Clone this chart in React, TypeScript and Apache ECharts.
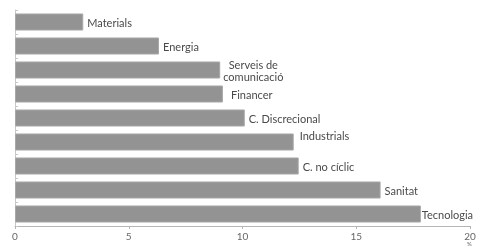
import React, { useEffect, useRef } from "react";
import * as echarts from "echarts";

const categories = [
  "Materials",
  "Energia",
  "Serveis de\ncomunicació",
  "Financer",
  "C. Discrecional",
  "Industrials",
  "C. no cíclic",
  "Sanitat",
  "Tecnologia",
];
const values = [3.0, 6.33, 9.02, 9.14, 10.1, 12.25, 12.47, 16.07, 17.84];
const xTicks = [0, 5, 10, 15, 20];
const unit = "%";

export default function App() {
  const ref = useRef<HTMLDivElement>(null);
  useEffect(() => {
    const chart = echarts.init(ref.current!, null, { renderer: "svg" });
    const font = "Lato, 'Open Sans', sans-serif";
    const data = values.map((v, i) => {
      const item: any = { value: v };
      if (categories[i] === "Industrials") item.label = { offset: [2, -7] };
      if (categories[i] === "Financer") item.label = { distance: 8 };
      if (categories[i] === "Tecnologia") item.label = { distance: 1 };
      if (categories[i] === "Serveis de\ncomunicació") item.label = { distance: 3 };
      return item;
    });
    chart.setOption({
      animation: false,
      grid: { left: 15, right: 9, top: 10, bottom: 21, containLabel: false },
      graphic: [
        {
          type: "text",
          left: 467,
          top: 240.5,
          style: { text: unit, fontSize: 6, lineHeight: 6, fill: "#666", fontFamily: font },
        },
      ],
      xAxis: {
        type: "value",
        min: xTicks[0],
        max: xTicks[xTicks.length - 1],
        interval: 5,
        axisLine: { show: true, lineStyle: { color: "#b5b5b5", width: 1 } },
        axisTick: { show: true, length: 3, lineStyle: { color: "#b5b5b5" } },
        splitLine: { show: false },
        axisLabel: {
          color: "#666",
          fontFamily: font,
          fontSize: 10,
          lineHeight: 9,
          margin: 5,
        },
      },
      yAxis: {
        type: "category",
        data: categories,
        inverse: true,
        axisLine: { show: true, lineStyle: { color: "#c8c8c8", width: 1 } },
        axisTick: { show: true, inside: true, length: 3, lineStyle: { color: "#c8c8c8" } },
        axisLabel: { show: false },
        splitLine: { show: false },
      },
      series: [
        {
          type: "bar",
          data,
          barCategoryGap: "29%",
          itemStyle: { color: "#939393", borderColor: "#a8a8a8", borderWidth: 1 },
          label: {
            show: true,
            position: "right",
            distance: 4,
            color: "#4a4a4a",
            fontFamily: font,
            fontSize: 11,
            formatter: (p: any) =>
              p.name
                .split("\n")
                .map((s: string) => "{c|" + s + "}")
                .join("\n"),
            rich: { c: { align: "center", fontSize: 11, color: "#4a4a4a", fontFamily: font, lineHeight: 12 } },
          },
        },
      ],
    });
    return () => chart.dispose();
  }, []);
  return (
    <div
      ref={ref}
      style={{ position: "fixed", left: 0, top: 0, width: 479, height: 247, overflow: "hidden" }}
    />
  );
}
